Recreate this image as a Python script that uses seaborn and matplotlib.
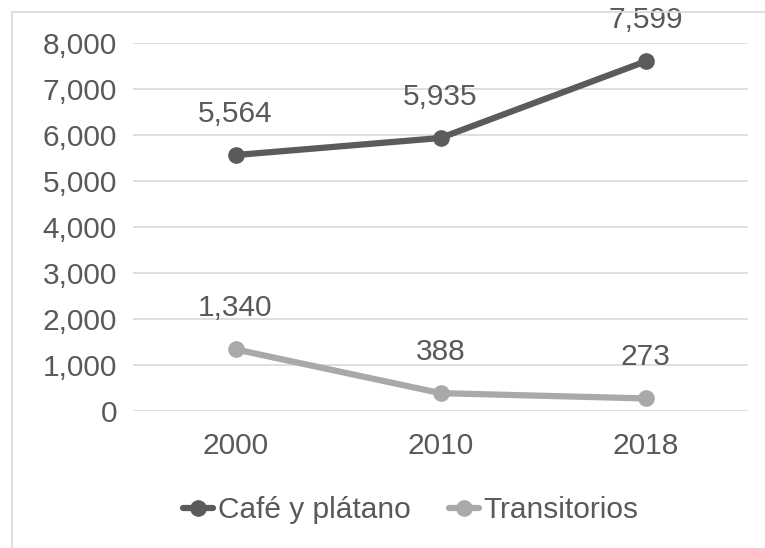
import matplotlib
matplotlib.use("Agg")
import matplotlib.pyplot as plt
import seaborn as sns
import pandas as pd
from matplotlib.lines import Line2D

years = ["2000", "2010", "2018"]
cafe_platano = [5564, 5935, 7599]
transitorios = [1340, 388, 273]
series_names = ["Café y plátano", "Transitorios"]
y_ticks = [0, 1000, 2000, 3000, 4000, 5000, 6000, 7000, 8000]

df = pd.DataFrame({
    "year": years * 2,
    "value": cafe_platano + transitorios,
    "serie": [series_names[0]] * 3 + [series_names[1]] * 3,
})

sns.set_theme(style="white")
plt.rcParams["font.family"] = ["Liberation Sans", "DejaVu Sans"]
text_color = "#595959"
colors = {series_names[0]: "#5b5b5b", series_names[1]: "#a9a9a9"}

fig = plt.figure(figsize=(7.65, 5.48), dpi=100)
ax = fig.add_axes([133 / 765, 1 - 411 / 548, (748 - 133) / 765, (411 - 43) / 548])

sns.lineplot(data=df, x="year", y="value", hue="serie", palette=colors,
             marker="o", markersize=12, linewidth=4.5, markeredgewidth=0,
             sort=False, ax=ax, legend=False)

ax.set_xlim(-0.5, 2.5)
ax.set_ylim(0, 8000)
ax.set_yticks(y_ticks)
ax.set_yticklabels([f"{v:,}" for v in y_ticks])
ax.grid(axis="y", color="#d9d9d9", linewidth=1.2)
ax.set_axisbelow(True)
for s in ax.spines.values():
    s.set_visible(False)
ax.tick_params(axis="both", length=0, labelsize=21.5, colors=text_color)
ax.tick_params(axis="y", pad=11.5)
ax.tick_params(axis="x", pad=15)
ax.set_xlabel("")
ax.set_ylabel("")

for vals in (cafe_platano, transitorios):
    for i, v in enumerate(vals):
        ax.annotate(f"{v:,}", (i, v), xytext=(0, 41), textcoords="offset pixels",
                    ha="center", va="center", fontsize=21.5, color=text_color,
                    annotation_clip=False)

handles = [Line2D([0], [0], color=colors[n], linewidth=4.5, marker="o",
                  markersize=12, markeredgewidth=0) for n in series_names]
fig.legend(handles, series_names, loc="center", bbox_to_anchor=(411 / 765, 1 - 510 / 548),
           ncol=2, frameon=False, fontsize=21.5, labelcolor=text_color,
           handlelength=1.0, handletextpad=0.15, columnspacing=1.3)

fig.add_artist(Line2D([12 / 765, 12 / 765], [0, 1 - 12 / 548], transform=fig.transFigure,
                      color="#d9d9d9", linewidth=1.2))
fig.add_artist(Line2D([12 / 765, 1], [1 - 12 / 548, 1 - 12 / 548], transform=fig.transFigure,
                      color="#d9d9d9", linewidth=1.2))

fig.savefig("out.png", dpi=100)
